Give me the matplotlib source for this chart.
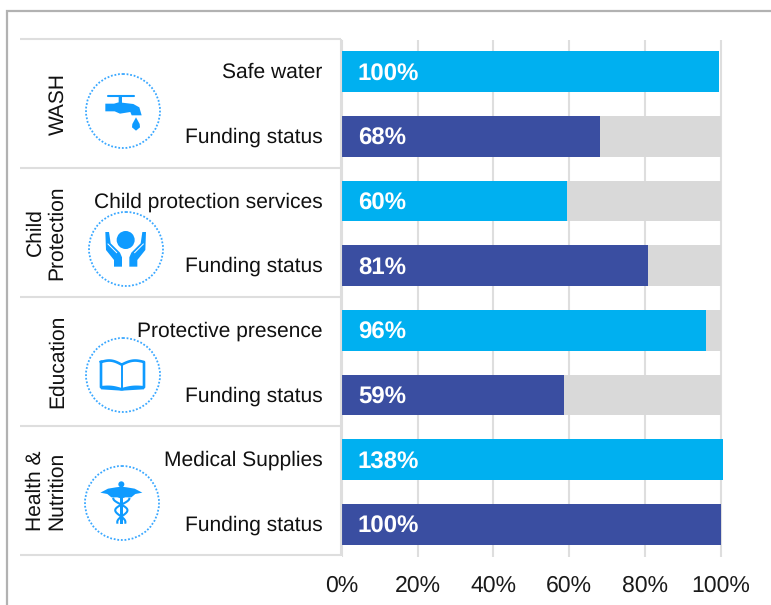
import numpy as np
import matplotlib
matplotlib.use("Agg")
import matplotlib.pyplot as plt
from matplotlib.patches import Circle, Polygon, Rectangle
from matplotlib.lines import Line2D
from matplotlib.transforms import ScaledTranslation

plt.rcParams['font.family'] = ['Liberation Sans', 'DejaVu Sans']
plt.rcParams['text.hinting'] = 'no_hinting'
plt.rcParams['text.hinting_factor'] = 1

# ---------- data ----------
row_labels = ["Safe water", "Funding status", "Child protection services", "Funding status",
              "Protective presence", "Funding status", "Medical Supplies", "Funding status"]
bar_values = [99.6, 68.2, 59.4, 80.8, 96.2, 58.6, 138, 100]
value_labels = ["100%", "68%", "60%", "81%", "96%", "59%", "138%", "100%"]
background = [0, 100, 100, 100, 100, 100, 0, 0]
xticks = [0, 20, 40, 60, 80, 100]
xtick_labels = ["0%", "20%", "40%", "60%", "80%", "100%"]
groups = ["WASH", "Child\nProtection", "Education", "Health &\nNutrition"]
group_centres = [(58, 104), (46, 232.5), (58, 361.5), (46, 491)]

LIGHT = "#00b0f0"
DARK = "#3a4ea1"
GREY = "#d9d9d9"
ICON = "#0f9bff"
W, H = 771, 605

fig = plt.figure(figsize=(W / 100, H / 100), dpi=100, facecolor="white")

ov = fig.add_axes([0, 0, 1, 1], zorder=3)
ov.set_xlim(0, W); ov.set_ylim(H, 0); ov.axis("off"); ov.patch.set_alpha(0)

x0, x1 = 342, 722.7
y0, y1 = 39.5, 556.5
ax = fig.add_axes([x0 / W, 1 - y1 / H, (x1 - x0) / W, (y1 - y0) / H], zorder=2)
ypos = np.arange(len(bar_values))
ax.barh(ypos, background, height=0.63, color=GREY, zorder=2)
colors = [LIGHT if i % 2 == 0 else DARK for i in ypos]
ax.barh(ypos, bar_values, height=0.63, color=colors, zorder=3)
ax.set_xlim(0, 100.52)
ax.set_ylim(len(bar_values) - 0.5, -0.5)
ax.set_xticks(xticks)
ax.set_xticklabels(xtick_labels, fontsize=16.8, color="#1a1a1a")
ax.set_yticks(ypos)
ax.set_yticklabels(row_labels, fontsize=15.4, color="#111111")
ax.tick_params(axis="both", length=0)
ax.tick_params(axis="x", pad=13.5)
ax.tick_params(axis="y", pad=14)
shift = ScaledTranslation(0, 1.2 / 100, fig.dpi_scale_trans)
for lab in ax.get_yticklabels():
    lab.set_transform(lab.get_transform() + shift)
ax.grid(axis="x", color="#dedede", lw=1.5, zorder=1)
ax.set_axisbelow(True)
for s in ax.spines.values():
    s.set_visible(False)
ax.patch.set_alpha(0)
for y, t in zip(ypos, value_labels):
    ax.text(4.2, y + 0.04, t, color="white", fontsize=17, fontweight="bold",
            va="center", ha="left", zorder=5)

FR = "#b2b2b2"
ov.add_line(Line2D([6.5, 6.5, W], [H, 10.5, 10.5], color=FR, lw=1.6, solid_joinstyle="miter"))

for yy in [39, 168, 297, 426, 555]:
    ov.add_line(Line2D([20, 341], [yy, yy], color="#dedede", lw=1.5, solid_capstyle="butt"))
ov.add_line(Line2D([341, 341], [39, 556], color="#dedede", lw=1.5, solid_capstyle="butt"))

for g, (cx, cy) in zip(groups, group_centres):
    ov.text(cx, cy, g, rotation=90, ha="center", va="center", fontsize=15.3,
            color="#111111", linespacing=1.13, multialignment="center")

for c in [(123, 111), (126, 249), (123, 375), (122, 503)]:
    ov.add_patch(Circle(c, 37, fill=False, ec="#3aa8ff", lw=1.3, ls=(0, (1, 1))))

def z1(pts):
    return [(20 + x / 3, 30 + y / 3) for x, y in pts]
def z2(pts):
    return [(20 + x / 3, 300 + y / 3) for x, y in pts]
def fill(pts, **k):
    ov.add_patch(Polygon(pts, closed=True, fc=ICON, ec="none", **k))

# tap
ov.add_line(Line2D(*zip(*z1([(264, 197), (341, 197)])), color=ICON, lw=1.5, solid_capstyle="round"))
fill(z1([(296, 197), (306, 197), (306, 218), (340, 222), (358, 232), (365, 256),
         (335, 256), (331, 246), (300, 251), (284, 244), (256, 244), (256, 221), (282, 221), (296, 217)]))
fill(z1([(348, 262), (359, 282), (360, 292), (348, 302), (336, 292), (337, 282)]))

# hands
cx = 317
ov.add_patch(Circle(z1([(cx, 630)])[0], 9, fc=ICON, ec="none"))
left = [(256, 606), (267, 606), (272, 640), (300, 668), (306, 682), (306, 710), (282, 710),
        (282, 690), (258, 660)]
fill(z1(left))
fill(z1([(2 * cx - x, y) for x, y in left]))
ov.add_line(Line2D(*zip(*z1([(264, 642), (290, 668)])), color="white", lw=0.7))
ov.add_line(Line2D(*zip(*z1([(370, 642), (344, 668)])), color="white", lw=0.7))

# book
t = np.linspace(0, 1, 20)
topL = [(243 + 62 * a, 186 - 8 * np.sin(np.pi * a) + 8 * a) for a in t]
botL = [(243 + 62 * a, 262 - 4 * np.sin(np.pi * a) + 6 * a) for a in t]
topR = [(305 + 67 * a, 194 - 8 * np.sin(np.pi * a) - 8 * a) for a in t]
botR = [(305 + 67 * a, 268 - 4 * np.sin(np.pi * a) - 6 * a) for a in t]
outline = topL + topR + botR[::-1] + botL[::-1] + [topL[0]]
ov.add_line(Line2D(*zip(*z2(outline)), color=ICON, lw=1.9, solid_joinstyle="round"))
ov.add_line(Line2D(*zip(*z2([(305, 194), (305, 268)])), color=ICON, lw=1.4))
ov.add_patch(Polygon(z2(botL + [(305, 272), (243, 268)]), fc=ICON, ec="none"))
ov.add_patch(Polygon(z2(botR + [(372, 268), (305, 272)]), fc=ICON, ec="none"))

# caduceus
c = 304
wing = [(c, 560), (c - 16, 562), (c - 40, 566), (c - 63, 578), (c - 42, 582), (c - 30, 592), (c - 12, 592), (c, 596)]
fill(z2(wing))
fill(z2([(2 * c - x, y) for x, y in wing]))
ov.add_patch(Circle(z2([(c, 553)])[0], 3, fc=ICON, ec="none"))
ov.add_patch(Rectangle(z2([(c - 4, 556)])[0], 2.6, 39, fc=ICON, ec="none"))
yy = np.linspace(596, 668, 100)
amp = np.interp(yy, [596, 610, 668], [24, 22, 12])
phase = (yy - 596) / 72 * 2 * np.pi + np.pi / 2
s1 = c + amp * np.sin(phase)
s2 = c - amp * np.sin(phase)
ov.add_line(Line2D(*zip(*z2(list(zip(s1, yy)))), color=ICON, lw=1.5))
ov.add_line(Line2D(*zip(*z2(list(zip(s2, yy)))), color=ICON, lw=1.5))

fig.savefig("out.png", dpi=100, facecolor="white")
